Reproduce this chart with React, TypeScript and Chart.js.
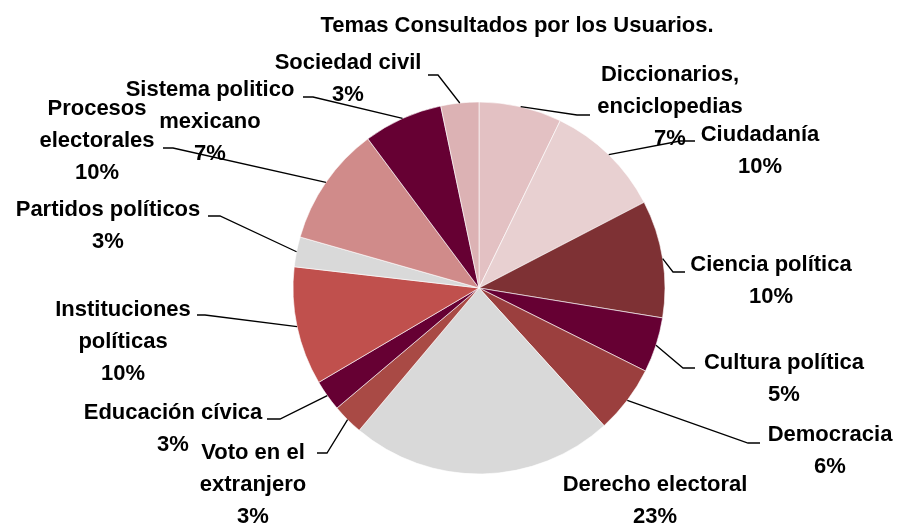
import React, { useEffect, useRef } from "react";
import { Chart, registerables } from "chart.js";

Chart.register(...registerables);

const TITLE = "Temas Consultados por los Usuarios.";

const categories = [
  "Diccionarios,\nenciclopedias",
  "Ciudadanía",
  "Ciencia política",
  "Cultura política",
  "Democracia",
  "Derecho electoral",
  "Voto en el\nextranjero",
  "Educación cívica",
  "Instituciones\npolíticas",
  "Partidos políticos",
  "Procesos\nelectorales",
  "Sistema politico\nmexicano",
  "Sociedad civil",
];

const values = [7.2, 10.2, 10.2, 4.8, 5.9, 22.9, 2.7, 2.7, 10.3, 2.6, 10.4, 6.9, 3.3];

const colors = [
  "#E3C1C3",
  "#E8D0D1",
  "#7E3134",
  "#660033",
  "#9B3F3E",
  "#D9D9D9",
  "#A94A45",
  "#660033",
  "#C0504D",
  "#D9D9D9",
  "#D08B8A",
  "#660033",
  "#DCB2B4",
];

// label layout relative to pie centre: text centre x, first line y, elbow [x, y], tail end x
type Lay = { cx: number; y0: number; elbow?: [number, number]; endX?: number };
const labelLayout: Lay[] = [
  { cx: 191, y0: -213, elbow: [98, -173], endX: 111 },
  { cx: 281, y0: -153, elbow: [201, -147], endX: 216 },
  { cx: 292, y0: -23, elbow: [194, -16], endX: 206 },
  { cx: 305, y0: 75, elbow: [204, 80], endX: 216 },
  { cx: 351, y0: 147, elbow: [269, 155], endX: 281 },
  { cx: 176, y0: 197 },
  { cx: -226, y0: 165, elbow: [-152, 165], endX: -162 },
  { cx: -306, y0: 125, elbow: [-199, 131], endX: -212 },
  { cx: -356, y0: 22, elbow: [-274, 27], endX: -282 },
  { cx: -371, y0: -78, elbow: [-259, -72], endX: -271 },
  { cx: -382, y0: -179, elbow: [-306, -140], endX: -316 },
  { cx: -269, y0: -198, elbow: [-166, -191], endX: -176 },
  { cx: -131, y0: -225, elbow: [-41, -213], endX: -51 },
];

const FONT = 'bold 22px "Liberation Sans", Arial, sans-serif';
const LINE_H = 32;

const labelPlugin = {
  id: "sliceLabels",
  afterDraw(chart: any) {
    const ctx = chart.ctx as CanvasRenderingContext2D;
    const meta = chart.getDatasetMeta(0);
    const total = values.reduce((a, b) => a + b, 0);
    ctx.save();
    // leader lines
    ctx.strokeStyle = "#000";
    ctx.lineWidth = 1.3;
    meta.data.forEach((arc: any, i: number) => {
      const L = labelLayout[i];
      if (!L.elbow) return;
      const p = arc.getProps(["x", "y", "startAngle", "endAngle", "outerRadius"], true);
      const mid = (p.startAngle + p.endAngle) / 2;
      const ex = p.x + Math.cos(mid) * p.outerRadius;
      const ey = p.y + Math.sin(mid) * p.outerRadius;
      ctx.beginPath();
      ctx.moveTo(ex, ey);
      ctx.lineTo(p.x + L.elbow[0], p.y + L.elbow[1]);
      ctx.lineTo(p.x + (L.endX as number), p.y + L.elbow[1]);
      ctx.stroke();
    });
    // texts
    ctx.fillStyle = "#000";
    ctx.font = FONT;
    ctx.textAlign = "center";
    ctx.textBaseline = "middle";
    meta.data.forEach((arc: any, i: number) => {
      const L = labelLayout[i];
      const p = arc.getProps(["x", "y"], true);
      const pct = Math.round((values[i] / total) * 100) + "%";
      const lines = categories[i].split("\n").concat(pct);
      lines.forEach((t, k) => ctx.fillText(t, p.x + L.cx, p.y + L.y0 + k * LINE_H));
    });
    // title
    const c = meta.data[0].getProps(["x", "y"], true);
    ctx.fillText(TITLE, c.x + 38, c.y - 262);
    ctx.restore();
  },
};

export default function App() {
  const ref = useRef<HTMLCanvasElement | null>(null);
  useEffect(() => {
    if (!ref.current) return;
    const chart = new Chart(ref.current, {
      type: "pie",
      data: {
        labels: categories.map((c) => c.replace("\n", " ")),
        datasets: [
          {
            data: values,
            backgroundColor: colors,
            borderColor: "rgba(255,255,255,0.6)",
            borderWidth: 1,
          },
        ],
      },
      options: {
        responsive: false,
        animation: false,
        radius: 186,
        layout: { padding: { left: 60, right: 0, top: 49, bottom: 0 } },
        plugins: {
          legend: { display: false },
          title: { display: false },
          tooltip: { enabled: false },
        },
      } as any,
      plugins: [labelPlugin],
    });
    return () => chart.destroy();
  }, []);
  return (
    <div style={{ position: "fixed", left: 0, top: 0, width: 898, height: 527, background: "#fff" }}>
      <canvas ref={ref} width={898} height={527} />
    </div>
  );
}
